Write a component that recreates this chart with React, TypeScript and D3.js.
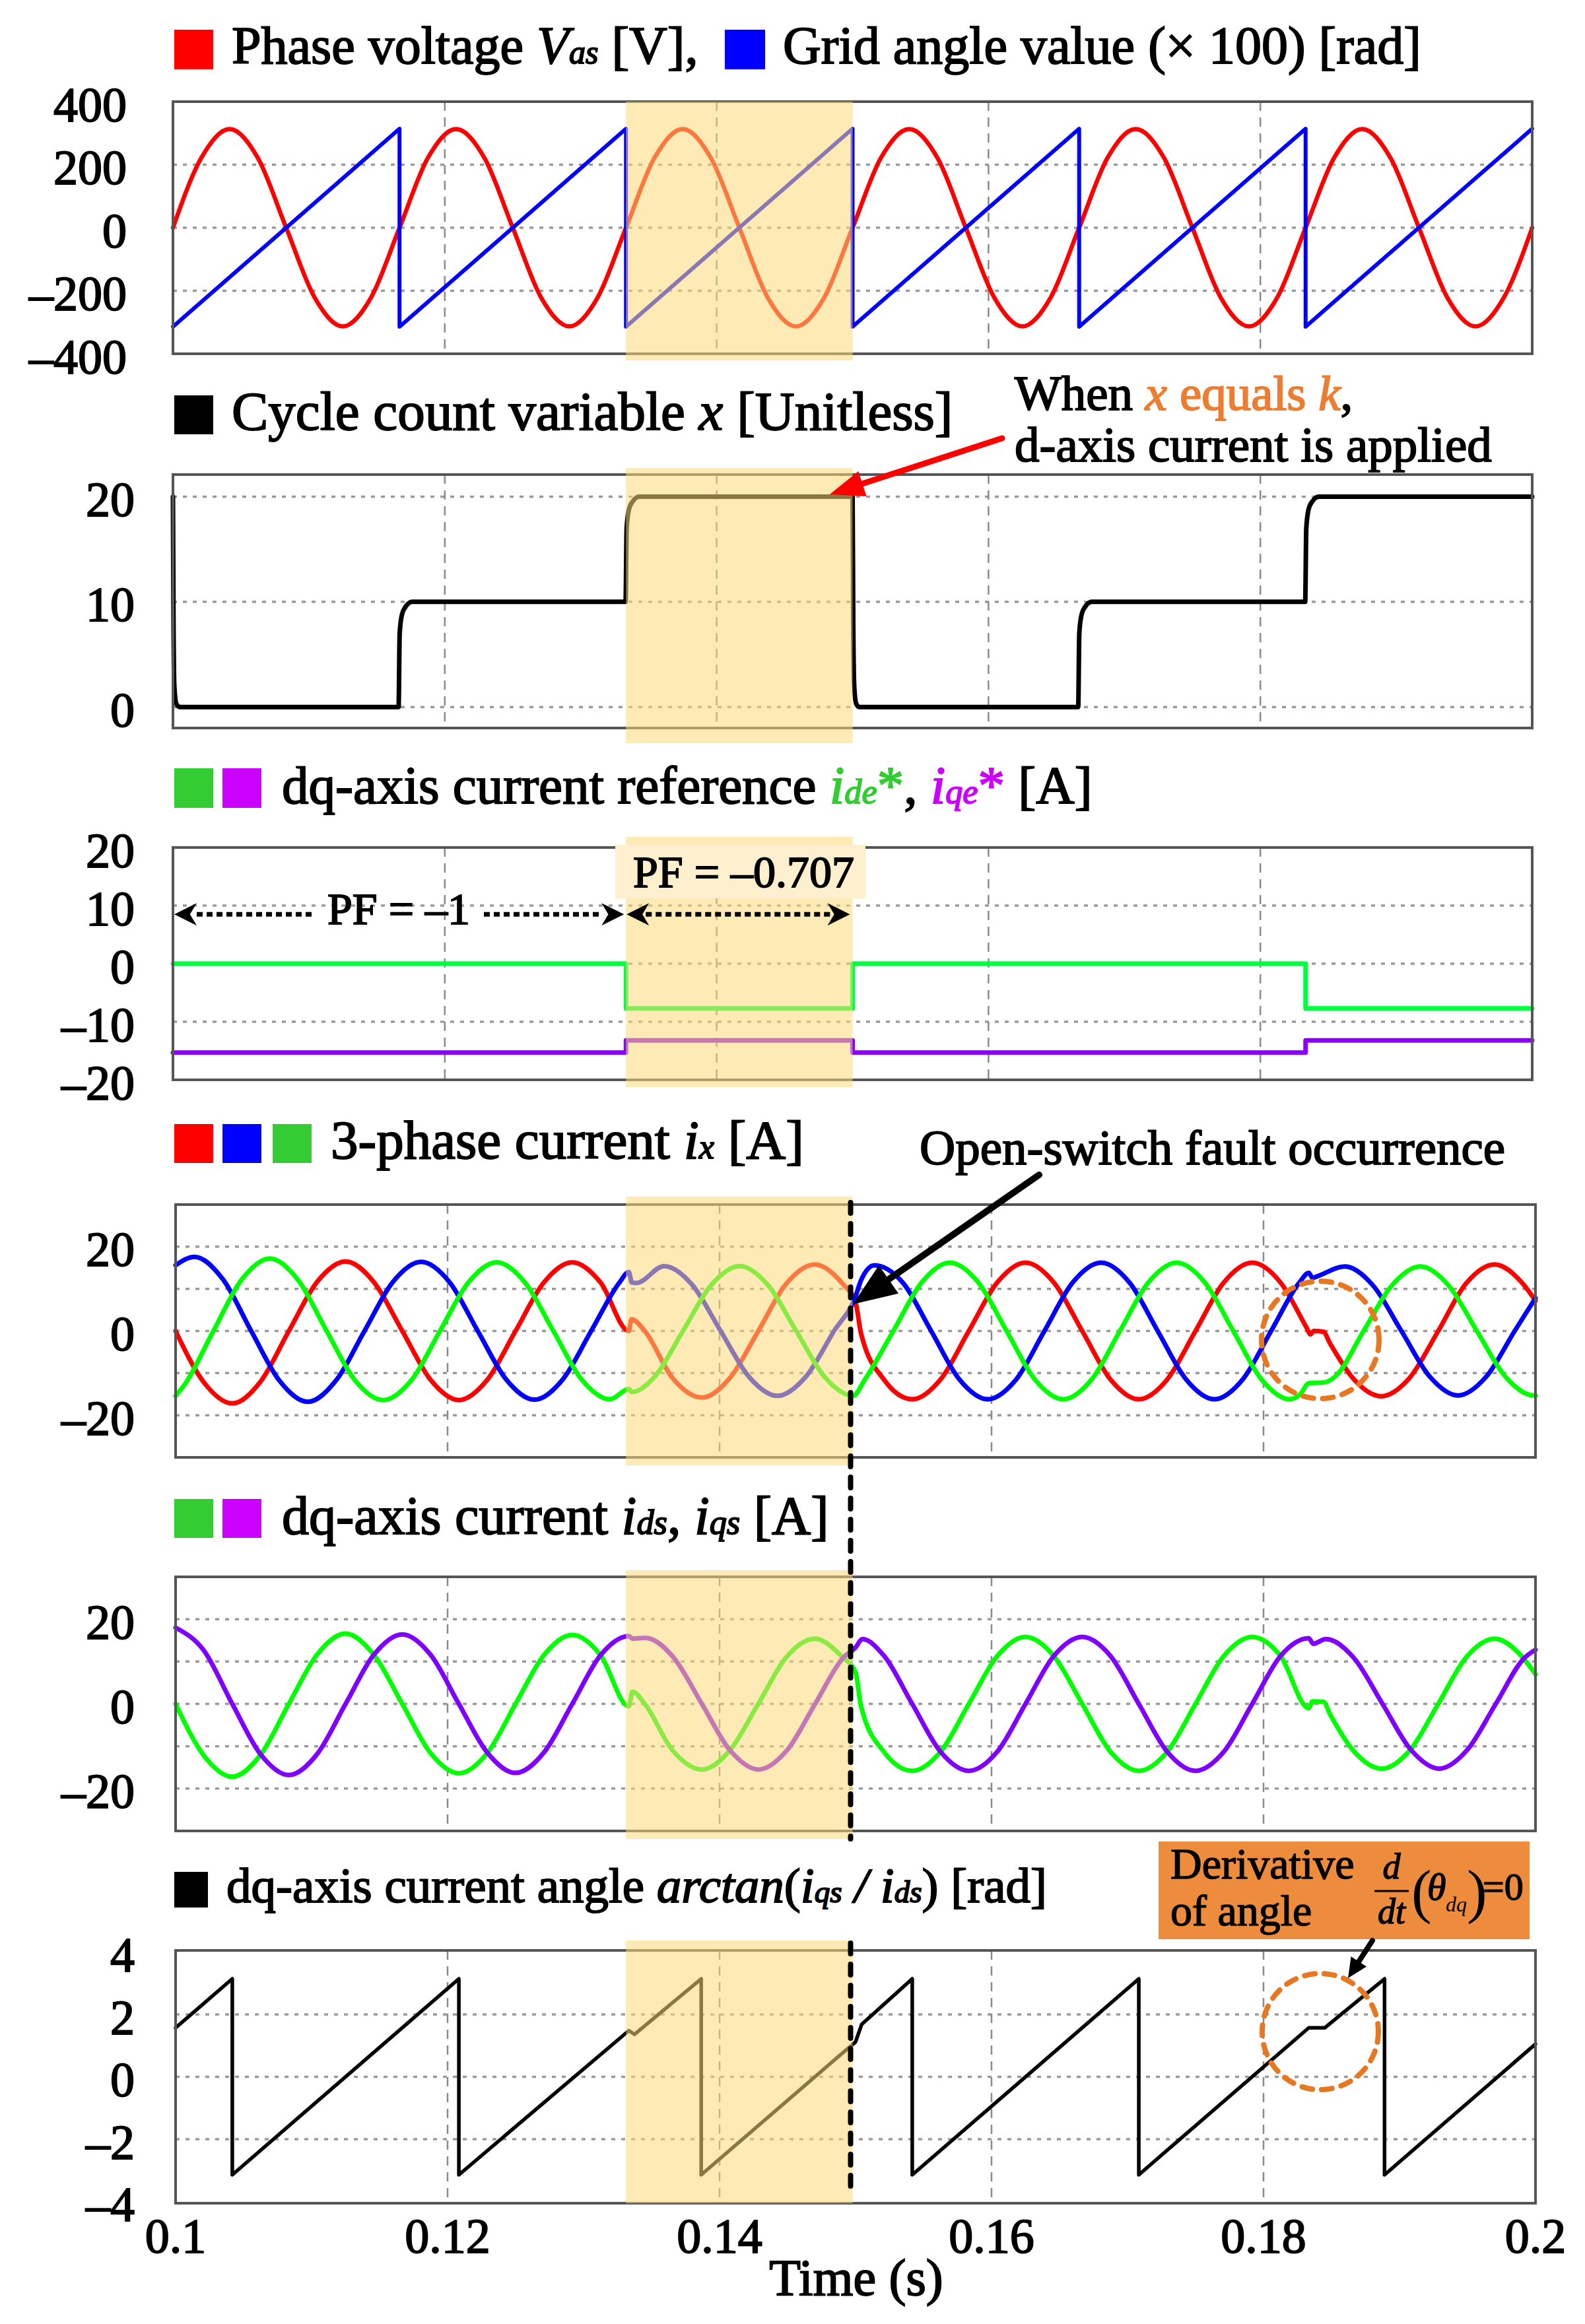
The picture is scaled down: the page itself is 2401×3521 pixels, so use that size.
import React from "react";
import * as d3 from "d3";

type P = [number, number];

// ---------------- DATA (time in ms) ----------------
const timeTicks = [100, 120, 140, 160, 180, 200];
const timeTickLabels = ["0.1", "0.12", "0.14", "0.16", "0.18", "0.2"];
const timeGrid = [120, 140, 160, 180];
const shadeStartMs = 133.33;
const shadeEndMs = 150;
const faultMs = 150;

// Panel 1: phase voltage Vas [V]
const phaseVoltage: P[] = [
  [100, 0], [102.08, 221], [104.17, 313], [106.25, 221], [108.33, 0], [110.42, -221], [112.5, -313], [114.58, -221],
  [116.67, 0], [118.75, 221], [120.83, 313], [122.92, 221], [125, 0], [127.08, -221], [129.17, -313], [131.25, -221],
  [133.33, 0], [135.42, 221], [137.5, 313], [139.58, 221], [141.67, 0], [143.75, -221], [145.83, -313], [147.92, -221],
  [150, 0], [152.08, 221], [154.17, 313], [156.25, 221], [158.33, 0], [160.42, -221], [162.5, -313], [164.58, -221],
  [166.67, 0], [168.75, 221], [170.83, 313], [172.92, 221], [175, 0], [177.08, -221], [179.17, -313], [181.25, -221],
  [183.33, 0], [185.42, 221], [187.5, 313], [189.58, 221], [191.67, 0], [193.75, -221], [195.83, -313], [197.92, -221],
  [200, 0],
];
// Panel 1: grid angle (x100) [rad]
const gridAngle: P[] = [
  [100, -314], [116.67, 314], [116.67, -314], [133.33, 314], [133.33, -314], [150, 314], [150, -314],
  [166.67, 314], [166.67, -314], [183.33, 314], [183.33, -314], [200, 314],
];
// Panel 2: cycle count variable x
const cycleCount: P[] = [
  [100, 20], [100.04, 8], [100.1, 2], [100.25, 0.3], [100.5, 0],
  [116.6, 0], [116.68, 7], [116.85, 8.8], [117.1, 9.5], [117.6, 10],
  [133.3, 10], [133.38, 17], [133.55, 18.8], [133.8, 19.5], [134.3, 20],
  [150, 20], [150.05, 8], [150.12, 2], [150.27, 0.3], [150.5, 0],
  [166.6, 0], [166.68, 7], [166.85, 8.8], [167.1, 9.5], [167.6, 10],
  [183.3, 10], [183.38, 17], [183.55, 18.8], [183.8, 19.5], [184.3, 20],
  [200, 20],
];
// Panel 3: dq current references
const idRef: P[] = [[100, 0], [133.33, 0], [133.33, -7.7], [150, -7.7], [150, 0], [183.33, 0], [183.33, -7.7], [200, -7.7]];
const iqRef: P[] = [[100, -15.3], [133.33, -15.3], [133.33, -13.2], [150, -13.2], [150, -15.3], [183.33, -15.3], [183.33, -13.2], [200, -13.2]];
// Panel 4: 3-phase currents
const ia: P[] = [
  [100, 0], [102.08, -12.2], [104.17, -17.2], [106.25, -12.0], [108.33, 0], [110.42, 11.7], [112.5, 16.5], [114.58, 11.6],
  [116.67, 0], [118.75, -11.6], [120.83, -16.4], [122.92, -11.6], [125, 0], [127.08, 11.5], [129.17, 16.3], [131.25, 11.5],
  [133.33, 0], [133.52, 2.8], [134.5, 0], [136.55, -11.2], [138.7, -15.8], [140.75, -11.2], [142.85, 0], [144.9, 11.2],
  [147, 15.8], [149.05, 11.2], [150, 6.8], [150.4, -0.5], [152.08, -11.5], [154.17, -16.2], [156.25, -11.5], [158.33, 0],
  [160.42, 11.5], [162.5, 16.2], [164.58, 11.5], [166.67, 0], [168.75, -11.5], [170.83, -16.2], [172.92, -11.5], [175, 0],
  [177.08, 11.5], [179.17, 16.2], [181.25, 11.5], [183.2, 0.6], [183.45, -0.8], [183.7, 0], [184.4, -0.2], [184.9, -3],
  [186.6, -11.3], [188.65, -15.5], [190.7, -11.3], [192.85, 0], [194.9, 11.3], [197, 15.8], [199.05, 11.3], [200, 7.2],
];
const ib: P[] = [
  [100, 15.6], [101.39, 17.6], [103.47, 12.3], [105.56, 0], [107.64, -11.8], [109.72, -16.8], [111.81, -11.7], [113.89, 0],
  [115.97, 11.6], [118.06, 16.4], [120.14, 11.6], [122.22, 0], [124.31, -11.5], [126.39, -16.3], [128.47, -11.5], [130.56, 0],
  [132.64, 11.5], [133.33, 14.0], [133.55, 11.5], [133.9, 11.4], [135.92, 15.4], [138, 10.9], [140.08, 0], [142.17, -10.9],
  [144.25, -15.4], [146.33, -10.9], [148.42, 0], [150, 8.2], [150.4, 12.0], [151.39, 15.6], [153.47, 11.5], [155.56, 0],
  [157.64, -11.5], [159.72, -16.2], [161.81, -11.5], [163.89, 0], [165.97, 11.5], [168.06, 16.2], [170.14, 11.5], [172.22, 0],
  [174.31, -11.5], [176.39, -16.2], [178.47, -11.5], [180.56, 0], [182.64, 11.5], [183.33, 13.8], [183.6, 12.6], [183.9, 12.9],
  [185.97, 15.3], [188.05, 10.8], [190.14, 0], [192.22, -10.8], [194.3, -15.3], [196.39, -10.8], [198.47, 0], [200, 7.8],
];
const ic: P[] = [
  [100, -15.4], [100.69, -12.6], [102.78, 0], [104.86, 12.2], [106.94, 17.2], [109.03, 12.0], [111.11, 0], [113.19, -11.7],
  [115.28, -16.4], [117.36, -11.6], [119.44, 0], [121.53, 11.5], [123.61, 16.3], [125.69, 11.5], [127.78, 0], [129.86, -11.5],
  [131.94, -16.2], [133.33, -13.8], [133.55, -14.5], [135.22, -10.9], [137.31, 0], [139.39, 10.9], [141.48, 15.4], [143.56, 10.9],
  [145.64, 0], [147.73, -10.9], [149.81, -15.4], [150.69, -11.5], [152.78, 0], [154.86, 11.5], [156.94, 16.2], [159.03, 11.5],
  [161.11, 0], [163.19, -11.5], [165.28, -16.2], [167.36, -11.5], [169.44, 0], [171.53, 11.5], [173.61, 16.2], [175.69, 11.5],
  [177.78, 0], [179.86, -11.5], [181.94, -16.2], [182.7, -15.0], [183.33, -12.4], [184.5, -12.2], [185.28, -10.8], [187.36, 0],
  [189.44, 10.8], [191.53, 15.3], [193.61, 10.8], [195.69, 0], [197.78, -10.8], [199.86, -15.3], [200, -15.3],
];
// Panel 5: dq-axis currents
const ids: P[] = [
  [100, 0], [102.08, -12.2], [104.17, -17.2], [106.25, -12.0], [108.33, 0], [110.42, 11.7], [112.5, 16.6], [114.58, 11.6],
  [116.67, 0], [118.75, -11.6], [120.83, -16.4], [122.92, -11.6], [125, 0], [127.08, 11.5], [129.17, 16.3], [131.25, 11.5],
  [133.33, -0.6], [133.6, 2.9], [134.5, 0], [136.55, -11.0], [138.7, -15.5], [140.75, -11.0], [142.85, 0], [144.9, 11.0],
  [147, 15.4], [149.05, 11.0], [150, 7.5], [150.4, -0.5], [152.08, -11.3], [154.17, -15.8], [156.25, -11.3], [158.33, 0],
  [160.42, 11.3], [162.5, 15.8], [164.58, 11.3], [166.67, 0], [168.75, -11.3], [170.83, -15.8], [172.92, -11.3], [175, 0],
  [177.08, 11.3], [179.17, 15.8], [181.25, 11.3], [183.33, -1.0], [183.6, 0.6], [184.4, 0.5], [184.9, -2.5], [186.6, -11.0],
  [188.7, -15.3], [190.75, -11.0], [192.85, 0], [194.9, 11.0], [197, 15.4], [199.05, 11.0], [200, 7.0],
];
const iqs: P[] = [
  [100, 18.0], [102.08, 12.6], [104.17, 0], [106.25, -11.9], [108.33, -16.8], [110.42, -11.8], [112.5, 0], [114.58, 11.6],
  [116.67, 16.4], [118.75, 11.6], [120.83, 0], [122.92, -11.5], [125, -16.3], [127.08, -11.5], [129.17, 0], [131.25, 11.5],
  [133.33, 16.0], [133.6, 15.4], [134.53, 15.6], [136.61, 11.0], [138.7, 0], [140.78, -11.0], [142.87, -15.5], [144.95, -11.0],
  [147.03, 0], [149.12, 11.0], [150, 13.3], [150.5, 15.3], [152.08, 11.4], [154.17, 0], [156.25, -11.3], [158.33, -15.8],
  [160.42, -11.3], [162.5, 0], [164.58, 11.3], [166.67, 15.8], [168.75, 11.3], [170.83, 0], [172.92, -11.3], [175, -15.8],
  [177.08, -11.3], [179.17, 0], [181.25, 11.3], [183.33, 15.5], [183.65, 14.2], [184.58, 15.3], [186.66, 10.8], [188.75, 0],
  [190.83, -10.8], [192.92, -15.3], [195, -10.8], [197.08, 0], [199.17, 10.8], [200, 12.8],
];
// Panel 6: dq current angle [rad]
const dqAngle: P[] = [
  [100, 1.57], [104.17, 3.14], [104.17, -3.14], [120.83, 3.14], [120.83, -3.14], [133.33, 1.48], [133.75, 1.36],
  [138.65, 3.14], [138.65, -3.14], [150, 1.12], [150.45, 1.68], [154.17, 3.14], [154.17, -3.14], [170.83, 3.14],
  [170.83, -3.14], [183.33, 1.57], [184.5, 1.57], [188.9, 3.14], [188.9, -3.14], [200, 1.05],
];

// axis ticks per panel
const p1Ticks = [400, 200, 0, -200, -400];
const p1TickLabels = ["400", "200", "0", "–200", "–400"];
const p1Grid = [200, 0, -200];
const p2Ticks = [20, 10, 0];
const p2TickLabels = ["20", "10", "0"];
const p2Grid = [20, 10, 0];
const p3Ticks = [20, 10, 0, -10, -20];
const p3TickLabels = ["20", "10", "0", "–10", "–20"];
const p3Grid = [10, 0, -10];
const p4Ticks = [20, 0, -20];
const p4TickLabels = ["20", "0", "–20"];
const p4Grid = [20, 10, 0, -10, -20];
const p5Ticks = [20, 0, -20];
const p5TickLabels = ["20", "0", "–20"];
const p5Grid = [20, 10, 0, -10, -20];
const p6Ticks = [4, 2, 0, -2, -4];
const p6TickLabels = ["4", "2", "0", "–2", "–4"];
const p6Grid = [2, 0, -2];

// ---------------- STYLE / LAYOUT ----------------
const W = 2401;
const H = 3521;
const FONT = "'Liberation Serif', 'Times New Roman', serif";
const TICK_FS = 74;
const TITLE_FS = 83;
const TS = { fontFamily: FONT, fill: "#000", stroke: "#000", strokeWidth: 1.9 };
const TS_THIN = { fontFamily: FONT, fill: "#000", stroke: "#000", strokeWidth: 1.4 };
const ORANGE_T = "#ED7D31";
const GREEN_T = "#33CC33";
const PURPLE_T = "#CC00FF";

const xA = d3.scaleLinear().domain([100, 200]).range([262, 2321]);
const xB = d3.scaleLinear().domain([100, 200]).range([266, 2326]);

interface PanelCfg {
  xs: d3.ScaleLinear<number, number>;
  y0: number;
  y1: number;
  dom: [number, number];
  ticks: number[];
  labels: string[];
  grid: number[];
  shade: [number, number];
  labelX: number;
}

const panels: PanelCfg[] = [
  { xs: xA, y0: 154, y1: 536, dom: [-400, 400], ticks: p1Ticks, labels: p1TickLabels, grid: p1Grid, shade: [154, 546], labelX: 192 },
  { xs: xA, y0: 719, y1: 1103, dom: [-2.0, 22.1], ticks: p2Ticks, labels: p2TickLabels, grid: p2Grid, shade: [709, 1126], labelX: 204 },
  { xs: xA, y0: 1284, y1: 1636, dom: [-20, 20], ticks: p3Ticks, labels: p3TickLabels, grid: p3Grid, shade: [1268, 1647], labelX: 204 },
  { xs: xB, y0: 1825, y1: 2208, dom: [-30, 30], ticks: p4Ticks, labels: p4TickLabels, grid: p4Grid, shade: [1813, 2220], labelX: 204 },
  { xs: xB, y0: 2389, y1: 2774, dom: [-30, 30], ticks: p5Ticks, labels: p5TickLabels, grid: p5Grid, shade: [2379, 2786], labelX: 204 },
  { xs: xB, y0: 2955, y1: 3338, dom: [-4.05, 4.05], ticks: p6Ticks, labels: p6TickLabels, grid: p6Grid, shade: [2940, 3338], labelX: 204 },
];

const yScale = (p: PanelCfg) => d3.scaleLinear().domain(p.dom).range([p.y1, p.y0]);

function Series(props: {
  pts: P[]; xs: d3.ScaleLinear<number, number>; ys: d3.ScaleLinear<number, number>;
  color: string; width: number; smooth?: boolean;
}) {
  const gen = d3
    .line<P>()
    .x((d) => props.xs(d[0]))
    .y((d) => props.ys(d[1]))
    .curve(props.smooth ? d3.curveMonotoneX : d3.curveLinear);
  return (
    <path d={gen(props.pts) || ""} fill="none" stroke={props.color} strokeWidth={props.width}
      strokeLinejoin="round" strokeLinecap="round" />
  );
}

function PanelBase({ p }: { p: PanelCfg }) {
  const ys = yScale(p);
  const [xl, xr] = p.xs.range();
  return (
    <g>
      {p.grid.map((v) => (
        <line key={"h" + v} x1={xl} x2={xr} y1={ys(v)} y2={ys(v)} stroke="#9a9a9a" strokeWidth={3.5} strokeDasharray="6 9" />
      ))}
      {timeGrid.map((t) => (
        <line key={"v" + t} x1={p.xs(t)} x2={p.xs(t)} y1={p.y0} y2={p.y1} stroke="#8a8a8a" strokeWidth={2.5} strokeDasharray="14 10" />
      ))}
      {p.ticks.map((v, i) => (
        <text key={"t" + v} x={p.labelX} y={ys(v)} dy="0.4em" textAnchor="end" {...TS} fontSize={TICK_FS}>
          {p.labels[i]}
        </text>
      ))}
    </g>
  );
}

function Frame({ p }: { p: PanelCfg }) {
  const [xl, xr] = p.xs.range();
  return <rect x={xl} y={p.y0} width={xr - xl} height={p.y1 - p.y0} fill="none" stroke="#555" strokeWidth={4} />;
}

function Shade({ p }: { p: PanelCfg }) {
  const x1 = xA(shadeStartMs);
  const x2 = xA(shadeEndMs);
  return <rect x={x1} y={p.shade[0]} width={x2 - x1} height={p.shade[1] - p.shade[0]} fill="#FBD977" fillOpacity={0.55} />;
}

function Arrow(props: { x1: number; y1: number; x2: number; y2: number; color: string; w: number; hl: number; hw: number }) {
  const { x1, y1, x2, y2, color, w, hl, hw } = props;
  const dx = x2 - x1, dy = y2 - y1;
  const len = Math.hypot(dx, dy);
  const ux = dx / len, uy = dy / len;
  const bx = x2 - ux * hl, by = y2 - uy * hl;
  const nx = -uy, ny = ux;
  const pts = `${x2},${y2} ${bx + nx * hw},${by + ny * hw} ${bx - nx * hw},${by - ny * hw}`;
  return (
    <g>
      <line x1={x1} y1={y1} x2={x2 - ux * hl * 0.6} y2={y2 - uy * hl * 0.6} stroke={color} strokeWidth={w} strokeLinecap="round" />
      <polygon points={pts} fill={color} />
    </g>
  );
}

function NotchHead({ x, y, dir }: { x: number; y: number; dir: number }) {
  // dir = +1 : head points left (tip at x, body to the right); -1 : points right
  const L = 34, Wd = 17;
  const d = `M${x},${y} L${x + dir * L},${y - Wd} L${x + dir * L * 0.7},${y} L${x + dir * L},${y + Wd} Z`;
  return <path d={d} fill="#000" />;
}

function Square({ x, y, s, h, c }: { x: number; y: number; s: number; h?: number; c: string }) {
  return <rect x={x} y={y} width={s} height={h ?? s} fill={c} />;
}

export default function App() {
  const [p1, p2, p3, p4, p5, p6] = panels;
  const y1s = yScale(p1), y2s = yScale(p2), y3s = yScale(p3), y4s = yScale(p4), y5s = yScale(p5), y6s = yScale(p6);
  const faultX = xA(faultMs) - 3;
  const pfY = y3s(8.5);
  const xShadeL = xA(shadeStartMs);
  const xShadeR = xA(shadeEndMs);
  const sub = TITLE_FS * 0.63;

  return (
    <svg width={W} height={H} viewBox={`0 0 ${W} ${H}`} style={{ position: "absolute", left: 0, top: 0, display: "block", background: "#fff" }}>
      <rect x={0} y={0} width={W} height={H} fill="#fff" />

      {/* ---------- titles ---------- */}
      <Square x={264} y={45} s={59} h={60} c="#FF0000" />
      <text x={351} y={96} {...TS} fontSize={80}>
        Phase voltage <tspan fontStyle="italic">V</tspan><tspan fontStyle="italic" fontSize={50}>as</tspan> [V],
      </text>
      <Square x={1098} y={45} s={61} h={60} c="#0000FF" />
      <text x={1186} y={96} {...TS} fontSize={80}>Grid angle value (× 100) [rad]</text>

      <Square x={264} y={599} s={59} c="#000" />
      <text x={351} y={651} {...TS} fontSize={TITLE_FS}>
        Cycle count variable <tspan fontStyle="italic">x</tspan> [Unitless]
      </text>
      <text x={1537} y={621} {...TS} fontSize={75}>
        When <tspan fill={ORANGE_T} stroke={ORANGE_T} fontStyle="italic">x</tspan>
        <tspan fill={ORANGE_T} stroke={ORANGE_T}> equals </tspan>
        <tspan fill={ORANGE_T} stroke={ORANGE_T} fontStyle="italic">k</tspan>,
      </text>
      <text x={1537} y={699} {...TS} fontSize={75}>d-axis current is applied</text>

      <Square x={264} y={1164} s={59} h={60} c="#33CC33" />
      <Square x={337} y={1164} s={59} h={60} c="#CC00FF" />
      <text x={427} y={1217} {...TS} fontSize={81}>
        dq-axis current reference <tspan fill={GREEN_T} stroke={GREEN_T} fontStyle="italic">i</tspan>
        <tspan fill={GREEN_T} stroke={GREEN_T} fontStyle="italic" fontSize={sub}>de</tspan>
        <tspan fill={GREEN_T} stroke={GREEN_T}>*</tspan>,{" "}
        <tspan fill={PURPLE_T} stroke={PURPLE_T} fontStyle="italic">i</tspan>
        <tspan fill={PURPLE_T} stroke={PURPLE_T} fontStyle="italic" fontSize={sub}>qe</tspan>
        <tspan fill={PURPLE_T} stroke={PURPLE_T}>*</tspan> [A]
      </text>

      <Square x={264} y={1703} s={59} c="#FF0000" />
      <Square x={337} y={1703} s={59} c="#0000FF" />
      <Square x={413} y={1703} s={59} c="#33CC33" />
      <text x={501} y={1755} {...TS} fontSize={TITLE_FS}>
        3-phase current <tspan fontStyle="italic">i</tspan><tspan fontStyle="italic" fontSize={sub}>x</tspan> [A]
      </text>
      <text x={1393} y={1764} {...TS} fontSize={75}>Open-switch fault occurrence</text>

      <Square x={264} y={2271} s={59} c="#33CC33" />
      <Square x={337} y={2271} s={59} c="#CC00FF" />
      <text x={427} y={2324} {...TS} fontSize={82}>
        dq-axis current <tspan fontStyle="italic">i</tspan><tspan fontStyle="italic" fontSize={sub}>ds</tspan>,{" "}
        <tspan fontStyle="italic">i</tspan><tspan fontStyle="italic" fontSize={sub}>qs</tspan> [A]
      </text>

      <Square x={264} y={2836} s={51} h={54} c="#000" />

      {/* ---------- panel bases ---------- */}
      {panels.map((p, i) => <PanelBase key={i} p={p} />)}

      {/* ---------- data ---------- */}
      <Series pts={phaseVoltage} xs={p1.xs} ys={y1s} color="#FF0000" width={6.5} smooth />
      <Series pts={gridAngle} xs={p1.xs} ys={y1s} color="#0000FF" width={6} />

      <Series pts={cycleCount} xs={p2.xs} ys={y2s} color="#000" width={7} smooth />

      <Series pts={idRef} xs={p3.xs} ys={y3s} color="#00FF40" width={7} />
      <Series pts={iqRef} xs={p3.xs} ys={y3s} color="#8A00FF" width={7} />

      <Series pts={ia} xs={p4.xs} ys={y4s} color="#FF0000" width={7} smooth />
      <Series pts={ib} xs={p4.xs} ys={y4s} color="#0000FF" width={7} smooth />
      <Series pts={ic} xs={p4.xs} ys={y4s} color="#00FF00" width={7} smooth />

      <Series pts={ids} xs={p5.xs} ys={y5s} color="#00FF00" width={7} smooth />
      <Series pts={iqs} xs={p5.xs} ys={y5s} color="#8000FF" width={7} smooth />

      <Series pts={dqAngle} xs={p6.xs} ys={y6s} color="#000" width={5.5} />

      {/* ---------- frames & shading ---------- */}
      {panels.map((p, i) => <Frame key={"f" + i} p={p} />)}
      {panels.map((p, i) => <Shade key={"s" + i} p={p} />)}

      {/* ---------- x axis ---------- */}
      {timeTicks.map((t, i) => (
        <text key={"xt" + t} x={p6.xs(t)} y={3413} textAnchor="middle" {...TS} fontSize={TICK_FS}>
          {timeTickLabels[i]}
        </text>
      ))}
      <text x={1297} y={3477} textAnchor="middle" {...TS} fontSize={78}>Time (s)</text>

      {/* ---------- annotations ---------- */}
      <Arrow x1={1518} y1={664} x2={1257} y2={749} color="#FF0000" w={9} hl={52} hw={20} />

      {/* PF arrows */}
      <line x1={298} x2={476} y1={pfY} y2={pfY} stroke="#000" strokeWidth={7} strokeDasharray="9 6" />
      <line x1={733} x2={912} y1={pfY} y2={pfY} stroke="#000" strokeWidth={7} strokeDasharray="9 6" />
      <NotchHead x={xA(100) + 2} y={pfY} dir={1} />
      <NotchHead x={xShadeL - 3} y={pfY} dir={-1} />
      <text x={604} y={1400} textAnchor="middle" {...TS} fontSize={68}>PF = –1</text>
      <line x1={xShadeL + 30} x2={xShadeR - 32} y1={pfY} y2={pfY} stroke="#000" strokeWidth={7} strokeDasharray="9 6" />
      <NotchHead x={xShadeL + 1} y={pfY} dir={1} />
      <NotchHead x={xShadeR - 4} y={pfY} dir={-1} />
      <rect x={932} y={1280} width={379} height={81} fill="#FEF0CE" />
      <text x={959} y={1344} {...TS} fontSize={68}>PF = –0.707</text>

      {/* fault line (panels 4-5, then panel 6) */}
      <line x1={faultX} x2={faultX} y1={1822} y2={2786} stroke="#000" strokeWidth={8} strokeDasharray="16 16" strokeLinecap="round" />
      <line x1={faultX} x2={faultX} y1={2944} y2={3325} stroke="#000" strokeWidth={8} strokeDasharray="16 16" strokeLinecap="round" />
      <Arrow x1={1574} y1={1780} x2={1292} y2={1976} color="#000" w={10} hl={66} hw={26} />

      {/* title 6 (drawn after the fault line so it sits on top) */}
      <text x={343} y={2882} {...TS} fontSize={75}>
        dq-axis current angle <tspan fontStyle="italic">arctan</tspan>(<tspan fontStyle="italic">i</tspan>
        <tspan fontStyle="italic" fontSize={47}>qs</tspan><tspan fontStyle="italic"> / </tspan><tspan fontStyle="italic">i</tspan>
        <tspan fontStyle="italic" fontSize={47}>ds</tspan>) [rad]
      </text>

      {/* orange dashed circles */}
      <circle cx={2000} cy={2030} r={89} fill="none" stroke="#E87722" strokeWidth={8} strokeDasharray="16 14" strokeLinecap="round" />
      <circle cx={2000} cy={3078} r={88} fill="none" stroke="#E87722" strokeWidth={8} strokeDasharray="16 14" strokeLinecap="round" />

      {/* derivative box */}
      <rect x={1755} y={2790} width={562} height={148} fill="#EE8C3E" />
      <text x={1773} y={2846} {...TS_THIN} fontSize={66}>Derivative</text>
      <text x={1773} y={2917} {...TS_THIN} fontSize={66}>of angle</text>
      <text x={2108} y={2846} textAnchor="middle" {...TS_THIN} fontSize={54} fontStyle="italic">d</text>
      <line x1={2082} x2={2134} y1={2865} y2={2865} stroke="#000" strokeWidth={3} />
      <text x={2108} y={2914} textAnchor="middle" {...TS_THIN} fontSize={54} fontStyle="italic">dt</text>
      <text x={2138} y={2896} fontFamily={FONT} fontSize={92}>(</text>
      <text x={2162} y={2878} {...TS_THIN} fontSize={58} fontStyle="italic">θ</text>
      <text x={2190} y={2896} fontFamily={FONT} fontSize={32} fontStyle="italic">dq</text>
      <text x={2222} y={2896} fontFamily={FONT} fontSize={92}>)</text>
      <text x={2246} y={2878} {...TS_THIN} fontSize={58}>=0</text>
      <Arrow x1={2079} y1={2940} x2={2042} y2={2997} color="#000" w={8} hl={30} hw={14} />
    </svg>
  );
}
